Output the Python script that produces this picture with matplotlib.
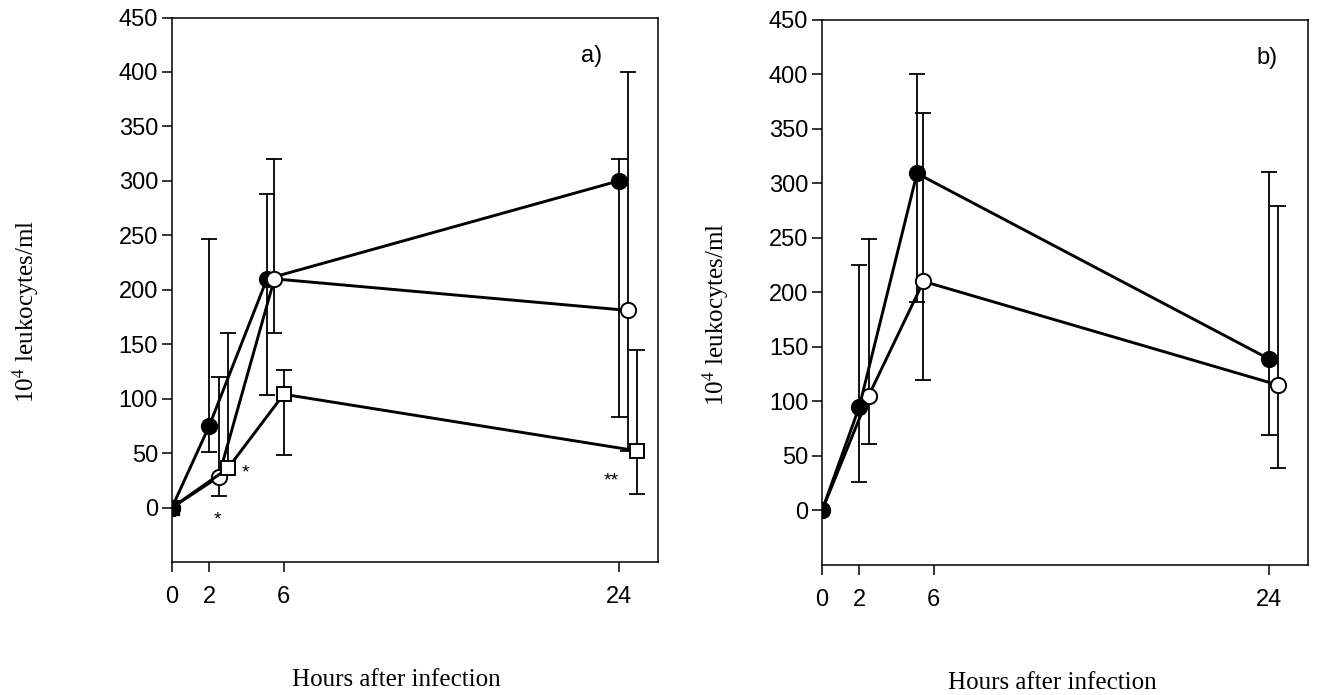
"""Leukocyte counts after infection, two panels (a, b)."""

import matplotlib
matplotlib.use("Agg")
import matplotlib.pyplot as plt

plt.rcParams.update({
    "font.family": "Liberation Sans",
    "mathtext.fontset": "stix",
    "axes.linewidth": 1.1,
    "xtick.major.width": 1.1,
    "ytick.major.width": 1.1,
})

# --- panel a -----------------------------------------------------------------
a_filled_x = [0, 2, 5.1, 24]
a_filled_y = [0, 75, 210, 300]
a_filled_lo = [0, 51, 103, 83]
a_filled_hi = [0, 247, 288, 320]

a_open_x = [0, 2.5, 5.5, 24.5]
a_open_y = [0, 28, 210, 181]
a_open_lo = [0, 11, 160, 52]
a_open_hi = [0, 120, 320, 400]

a_sq_x = [0, 3, 6, 25]
a_sq_y = [0, 36, 104, 52]
a_sq_lo = [0, 36, 48, 12]
a_sq_hi = [0, 160, 126, 145]

# significance marks (x, y, text)
a_stars = [(3.95, 32, "*"), (2.45, -11, "*"), (23.6, 24, "**")]

# --- panel b -----------------------------------------------------------------
b_filled_x = [0, 2, 5.1, 24]
b_filled_y = [0, 95, 309, 139]
b_filled_lo = [0, 26, 191, 69]
b_filled_hi = [0, 225, 400, 310]

b_open_x = [0, 2.5, 5.45, 24.5]
b_open_y = [0, 105, 210, 115]
b_open_lo = [0, 61, 120, 39]
b_open_hi = [0, 249, 364, 279]

XTICKS = [0, 2, 6, 24]
YTICKS = [0, 50, 100, 150, 200, 250, 300, 350, 400, 450]

SERIF = "Liberation Serif"


def _series(ax, x, y, lo, hi, marker, face, ms):
    yerr = [[yi - l for yi, l in zip(y, lo)], [h - yi for yi, h in zip(y, hi)]]
    ax.errorbar(x, y, yerr=yerr, fmt="none", ecolor="black", elinewidth=1.3,
                capsize=5.5, capthick=1.3, zorder=2)
    ax.plot(x, y, color="black", lw=2.1, marker=marker, ms=ms,
            mfc=face, mec="black", mew=1.4, zorder=4)


def _style(ax, tag, tag_x, ylab_x, xlab_x):
    ax.set_xlim(0, 26.1)
    ax.set_ylim(-50, 450)
    ax.set_xticks(XTICKS)
    ax.set_yticks(YTICKS)
    ax.tick_params(direction="out", length=7, labelsize=17)
    ax.tick_params(axis="x", pad=10)
    ax.tick_params(axis="y", pad=3)
    ax.text(tag_x, 0.93, tag, transform=ax.transAxes, fontsize=17,
            ha="center", va="center")
    ax.set_ylabel(r"10$^4$ leukocytes/ml", family=SERIF, fontsize=18)
    ax.yaxis.label.set_va("center")
    ax.yaxis.set_label_coords(ylab_x, 0.46)
    ax.set_xlabel("Hours after infection", family=SERIF, fontsize=18)
    ax.xaxis.label.set_va("center")
    ax.xaxis.set_label_coords(xlab_x, -0.216)


fig = plt.figure(figsize=(13.22, 6.95), dpi=100)
ax_a = fig.add_axes([0.1301, 0.1914, 0.3676, 0.7834])
ax_b = fig.add_axes([0.6218, 0.1870, 0.3676, 0.7848])

_series(ax_a, a_filled_x, a_filled_y, a_filled_lo, a_filled_hi, "o", "black", 11)
_series(ax_a, a_open_x, a_open_y, a_open_lo, a_open_hi, "o", "white", 11)
_series(ax_a, a_sq_x, a_sq_y, a_sq_lo, a_sq_hi, "s", "white", 10.5)
# the origin point is drawn solid
ax_a.plot(a_sq_x[0], a_sq_y[0], "s", ms=10.5, mfc="black", mec="black", zorder=5)
for sx, sy, s in a_stars:
    ax_a.text(sx, sy, s, fontsize=14, ha="center", va="center")
_style(ax_a, "a)", 0.864, -0.30, 0.461)

_series(ax_b, b_open_x, b_open_y, b_open_lo, b_open_hi, "o", "white", 11)
_series(ax_b, b_filled_x, b_filled_y, b_filled_lo, b_filled_hi, "o", "black", 11)
_style(ax_b, "b)", 0.916, -0.218, 0.473)

fig.savefig("out.png", dpi=100)
